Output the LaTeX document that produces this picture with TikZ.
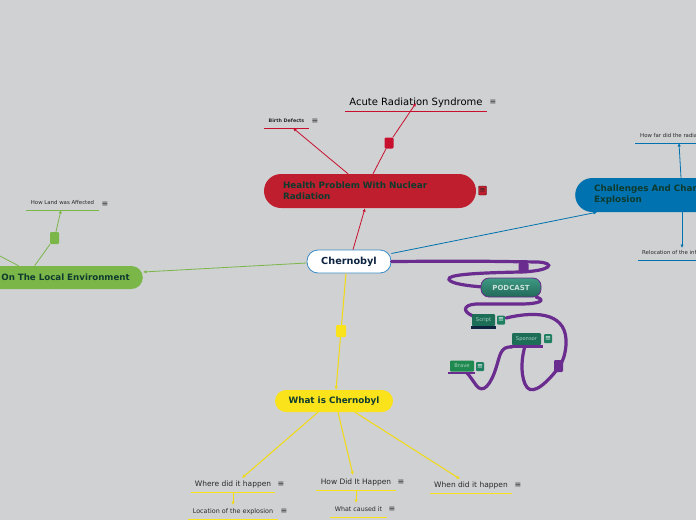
\documentclass[tikz,border=0pt]{standalone}
\usepackage{fontspec}
\setmainfont{DejaVu Sans}
\usetikzlibrary{arrows.meta}
\definecolor{bg}{HTML}{D0D1D3}
\definecolor{hred}{HTML}{BE1E2D}
\definecolor{lred}{HTML}{C8102E}
\definecolor{hblue}{HTML}{0072B0}
\definecolor{hgreen}{HTML}{7AB648}
\definecolor{hyellow}{HTML}{FBE31B}
\definecolor{lyellow}{HTML}{F2DA10}
\definecolor{hpurple}{HTML}{6A2C8E}
\definecolor{dtext}{HTML}{0E3B2E}
\definecolor{navy}{HTML}{0D2340}
\definecolor{cborder}{HTML}{3A8CC6}
\definecolor{teal}{HTML}{1D6E57}
\definecolor{tealtop}{HTML}{3E9A83}
\definecolor{tealbot}{HTML}{22695A}
\definecolor{ttext}{HTML}{A8CFC0}
\definecolor{iconbg}{HTML}{1E8060}
\definecolor{bravebg}{HTML}{1F8A4F}
\definecolor{leaftext}{HTML}{2A2A2A}
\begin{document}
\begin{tikzpicture}[x=1pt,y=-1pt,
  conn/.style={line width=0.8pt,-{Latex[length=3.5pt,width=3.4pt]}},
  plain/.style={line width=0.8pt},
  yl/.style={line width=1pt,lyellow},
  main/.style={font=\bfseries\fontsize{8.8}{11}\selectfont,text=dtext,inner ysep=0pt},
  leaf/.style={anchor=south,inner xsep=0pt,inner ysep=3pt,text depth=0.25em,text=leaftext},
  ul/.style={line width=1pt},
  icon/.style={font=\fontsize{8}{8}\selectfont,text=leaftext,inner sep=0pt},
  sq/.style={rounded corners=1.2pt,minimum width=9pt,minimum height=11pt,inner sep=0pt},
  pc/.style={draw=hpurple,line width=3.2pt,line cap=round},
  tnode/.style={fill=teal,text=ttext,font=\fontsize{5.2}{6}\selectfont,rounded corners=1pt,inner sep=0pt,minimum height=12pt},
  ticon/.style={fill=iconbg,text=white,font=\fontsize{7}{7}\selectfont,rounded corners=1pt,inner sep=0pt,minimum width=8pt,minimum height=9pt}
]
\useasboundingbox (0,0) rectangle (696,520);
\clip (0,0) rectangle (696,520);
\fill[bg] (0,0) rectangle (696,520);

% ---------- main nodes ----------
\node[fill=white,draw=cborder,line width=0.8pt,rounded corners=11pt,minimum width=84pt,minimum height=23pt,
      font=\bfseries\fontsize{9.7}{10}\selectfont,text=navy,inner sep=0pt] (chern) at (349,261.5) {Chernobyl};

\node[main,fill=hred,rounded corners=17pt,text width=174pt,inner xsep=19pt,minimum height=34pt,align=left] (health) at (370,191) {Health Problem With Nuclear\\Radiation};
\node[fill=hred,draw=hred!50!black,line width=0.4pt,icon,font=\fontsize{7}{7}\selectfont,minimum width=8pt,minimum height=9pt,rounded corners=1pt] (healthi) at (482.5,190.5) {≡};

\node[main,fill=hblue,rounded corners=17pt,text width=250pt,inner xsep=19pt,minimum height=34pt,align=left,anchor=west] (chal) at (575,195) {Challenges And Changes After The\\Explosion};

\node[main,fill=hgreen,rounded corners=11.5pt,text width=130pt,inner xsep=13pt,minimum height=23pt,align=right,anchor=east,font=\bfseries\fontsize{8.7}{9}\selectfont] (local) at (143,277.5) {On The Local Environment};

\node[main,fill=hyellow,rounded corners=11pt,minimum width=118pt,minimum height=22pt,inner sep=0pt,font=\bfseries\fontsize{8.8}{9}\selectfont] (what) at (334,401) {What is Chernobyl};

% ---------- leaves ----------
\node[leaf,minimum width=142pt,font=\fontsize{10}{11}\selectfont,text=black] (ars) at (416,111) {Acute Radiation Syndrome};
\draw[ul,lred] (ars.south west) -- (ars.south east);
\node[icon] (arsi) at (493,102) {≡};

\node[leaf,minimum width=45pt,font=\bfseries\fontsize{4.8}{5}\selectfont] (birth) at (286.5,128) {Birth Defects};
\draw[ul,lred] (birth.south west) -- (birth.south east);
\node[icon] (birthi) at (315,121.5) {≡};

\node[leaf,anchor=south west,inner xsep=5pt,font=\fontsize{5.4}{6}\selectfont] (far) at (635,143) {How far did the radiation spread};
\draw[ul,hblue] (far.south west) -- (far.south east);

\node[leaf,anchor=south west,inner xsep=4pt,font=\fontsize{5.4}{6}\selectfont] (reloc) at (638,260) {Relocation of the inhabitants};
\draw[ul,hblue] (reloc.south west) -- (reloc.south east);

\node[leaf,minimum width=73pt,font=\fontsize{5.4}{6}\selectfont] (land) at (62.5,210) {How Land was Affected};
\draw[ul,hgreen] (land.south west) -- (land.south east);
\node[icon] (landi) at (105,204) {≡};

\node[leaf,minimum width=84pt,font=\fontsize{7.5}{8}\selectfont] (where) at (233,492) {Where did it happen};
\draw[ul,hyellow] (where.south west) -- (where.south east);
\node[icon] (wherei) at (281,484) {≡};

\node[leaf,minimum width=80pt,font=\fontsize{7.5}{8}\selectfont] (how) at (356,490) {How Did It Happen};
\draw[ul,hyellow] (how.south west) -- (how.south east);
\node[icon] (howi) at (401,482) {≡};

\node[leaf,minimum width=82pt,font=\fontsize{7.5}{8}\selectfont] (when) at (471,493) {When did it happen};
\draw[ul,hyellow] (when.south west) -- (when.south east);
\node[icon] (wheni) at (518,485.5) {≡};

\node[leaf,minimum width=90pt,font=\fontsize{6.4}{7}\selectfont] (loc) at (233,519) {Location of the explosion};
\draw[ul,hyellow] (loc.south west) -- (loc.south east);
\node[icon] (loci) at (284,511) {≡};

\node[leaf,minimum width=57pt,font=\fontsize{6.3}{7}\selectfont] (cause) at (358.5,517) {What caused it};
\draw[ul,hyellow] (cause.south west) -- (cause.south east);
\node[icon] (causei) at (392,509) {≡};

% ---------- connectors ----------
\draw[conn,lred] ([xshift=4pt]chern.north) -- ([xshift=-5pt]health.south);
\node[sq,fill=lred] (hsq) at (389,143) {};
\draw[plain,lred] ([xshift=3pt]health.north) -- (hsq);
\draw[conn,lred] (hsq) -- ([yshift=8pt]ars.south);
\draw[conn,lred] ([xshift=-22pt]health.north) -- ([xshift=6.5pt]birth.south);

\draw[conn,hblue] ([yshift=8pt]chern.east) -- ([xshift=22pt]chal.south west);
\draw[conn,hblue] ([xshift=106pt]chal.north west) -- ([xshift=44pt]far.south west);
\draw[conn,hblue] ([xshift=107pt]chal.south west) -- ([xshift=44pt,yshift=12pt]reloc.south west);

\draw[conn,hgreen] ([yshift=-1.5pt]chern.west) -- ([yshift=5.5pt]local.east);
\node[sq,fill=hgreen,minimum width=9pt,minimum height=12pt] (lsq) at (54.5,238) {};
\draw[plain,hgreen] ([xshift=48pt]local.north west) -- (lsq);
\draw[conn,hgreen] (lsq) -- ([xshift=-1.5pt]land.south);
\coordinate (lfree) at (-2,255);
\draw[plain,hgreen] ([xshift=32pt]local.north west) -- (lfree);

\node[sq,fill=hyellow,minimum width=10pt,minimum height=12pt] (ysq) at (341,331) {};
\draw[yl] ([xshift=-3pt]chern.south) -- (ysq);
\draw[conn,yl] (ysq) -- ([xshift=2pt]what.north);
\draw[conn,yl] ([xshift=-16pt]what.south) -- ([xshift=9pt,yshift=14pt]where.south);
\draw[conn,yl] ([xshift=4pt]what.south) -- ([xshift=-3pt,yshift=15pt]how.south);
\draw[conn,yl] ([xshift=21pt]what.south) -- ([xshift=-11pt,yshift=14pt]when.south);
\draw[conn,yl] (where.south) -- ([yshift=14pt]loc.south);
\draw[conn,yl] (how.south) -- ([xshift=-2.5pt,yshift=14pt]cause.south);

% ---------- podcast branch ----------
\draw[pc] (chern.east) .. controls (470,261) .. (538,262)
  .. controls (556,263) and (552,271) .. (520,272)
  .. controls (470,273) and (447,275) .. (449,279.5)
  .. controls (451,284) and (470,286) .. (483,287);
\node[sq,fill=hpurple,minimum width=10pt,minimum height=10pt] (psq) at (523.5,268) {};

\draw[pc] (536,297) .. controls (546,300) and (541,304) .. (520,304)
  -- (476,304) .. controls (462,305) and (463,312) .. (473,316);

\draw[pc] (506,318) .. controls (540,310) and (568,314) .. (566,345)
  .. controls (565,358) and (561,365) .. (556,371)
  .. controls (542,388) and (530,396) .. (525,384)
  .. controls (520,372) and (522,356) .. (525,346);
\node[sq,fill=hpurple,minimum width=9pt,minimum height=12pt] (psq2) at (558.5,366) {};

\draw[pc] (512,347) .. controls (500,346) and (500,356) .. (496,368)
  .. controls (491,384) and (483,395) .. (476,385)
  .. controls (471,378) and (469,375) .. (467,373);

\node[draw=hpurple,line width=0.8pt,top color=tealtop,bottom color=tealbot,rounded corners=8pt,
      minimum width=60pt,minimum height=19pt,inner sep=0pt,text=ttext!60!white,
      font=\bfseries\fontsize{7}{7}\selectfont] (podcast) at (511,287.5) {PODCAST};

\node[tnode,minimum width=23pt] (script) at (483.5,320) {Script};
\draw[line width=2.6pt,navy] ([xshift=-1pt,yshift=-1.3pt]script.south west) -- ([xshift=1pt,yshift=-1.3pt]script.south east);
\node[ticon] (scripti) at (501,320) {≡};

\node[tnode,minimum width=29pt] (sponsor) at (526.5,339) {Sponsor};
\draw[line width=2.6pt,hpurple] ([xshift=-2pt,yshift=-1.3pt]sponsor.south west) -- ([xshift=2pt,yshift=-1.3pt]sponsor.south east);
\node[ticon] (sponsori) at (548,338.5) {≡};

\node[tnode,fill=bravebg,minimum width=24pt,minimum height=11pt] (brave) at (462,366) {Brave};
\draw[line width=2.6pt,hpurple] ([xshift=-2pt,yshift=-1.3pt]brave.south west) -- ([xshift=1pt,yshift=-1.3pt]brave.south east);
\node[ticon] (bravei) at (480,366.5) {≡};
\end{tikzpicture}
\end{document}
